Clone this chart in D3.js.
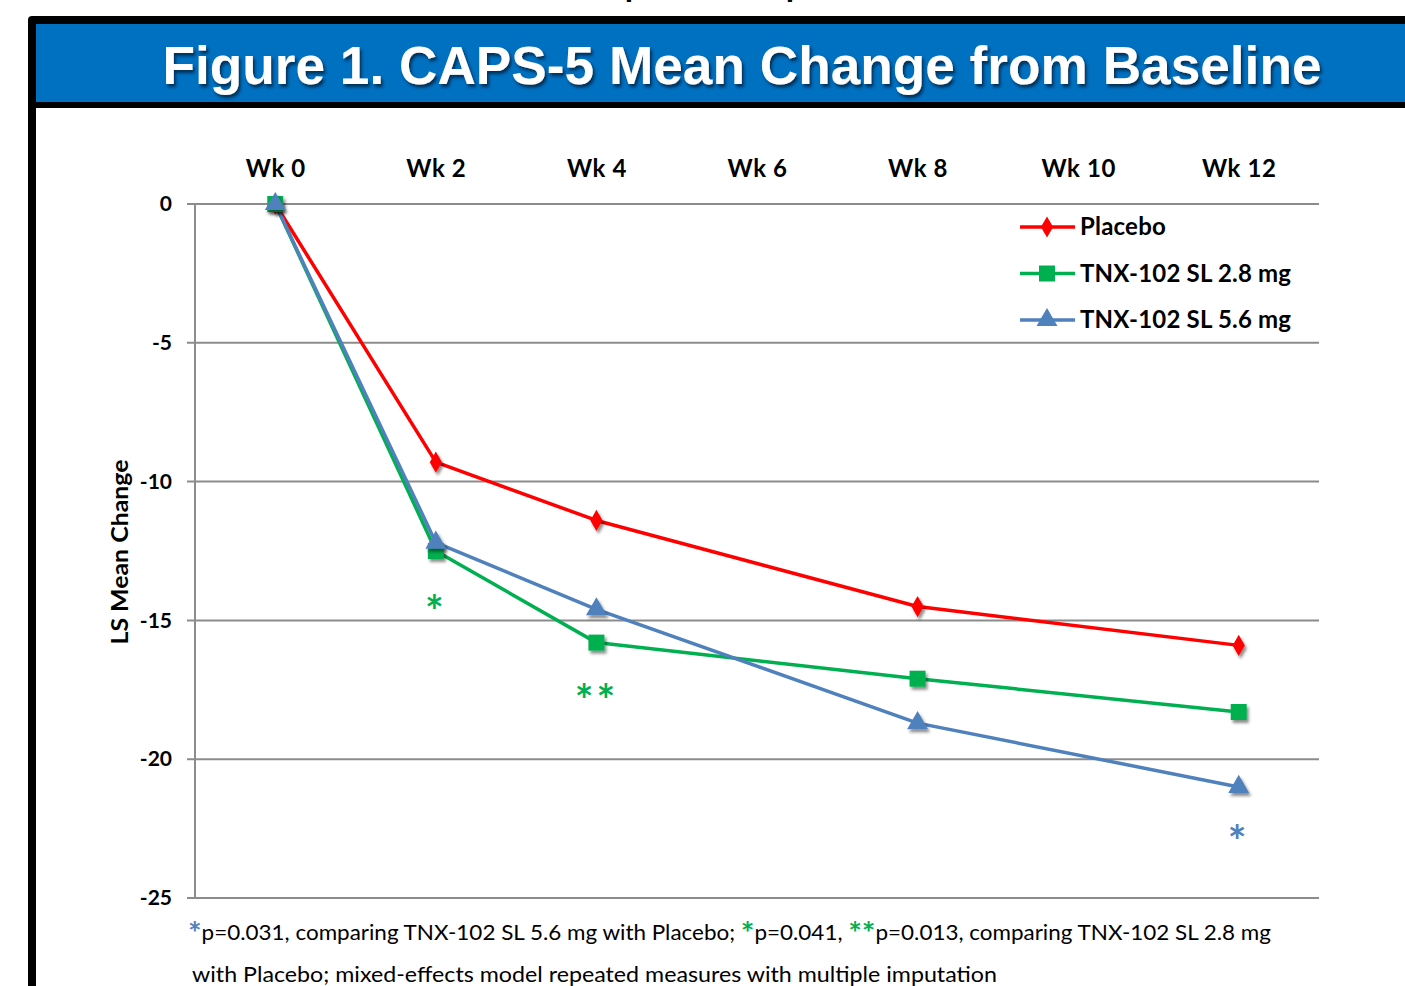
<!DOCTYPE html>
<html>
<head>
<meta charset="utf-8">
<script src="https://cdn.jsdelivr.net/npm/d3@7"></script>
<style>
  body { margin: 0; background: #fff; overflow: hidden; }
  svg { display: block; }
</style>
</head>
<body>
<script>
// chart data
const weeks = ["Wk 0", "Wk 2", "Wk 4", "Wk 6", "Wk 8", "Wk 10", "Wk 12"];
const yTicks = [0, -5, -10, -15, -20, -25];
const placeboWeeks = ["Wk 0", "Wk 2", "Wk 4", "Wk 8", "Wk 12"];
const placebo = [0, -9.3, -11.4, -14.5, -15.9];
const dose28 = [0, -12.5, -15.8, -17.1, -18.3];
const dose56 = [0, -12.2, -14.6, -18.7, -21.0];
const seriesNames = ["Placebo", "TNX-102 SL 2.8 mg", "TNX-102 SL 5.6 mg"];
const sigWeeks = ["Wk 2", "Wk 4", "Wk 12"];
const sigMarks = ["*", "**", "*"];
const sigValues = [-14.3, -17.5, -22.6];

const W = 1405, H = 986;
const svg = d3.select("body").append("svg").attr("width", W).attr("height", H);

const defs = svg.append("defs");
defs.append("filter").attr("id", "shadow").attr("x", "-50%").attr("y", "-50%").attr("width", "200%").attr("height", "200%")
  .append("feDropShadow").attr("dx", 2).attr("dy", 3).attr("stdDeviation", 1.8)
  .attr("flood-color", "#000").attr("flood-opacity", 0.45);
defs.append("filter").attr("id", "tshadow")
  .append("feDropShadow").attr("dx", 2).attr("dy", 3).attr("stdDeviation", 1.5)
  .attr("flood-color", "#002040").attr("flood-opacity", 0.8);

// cropped text above the frame
svg.selectAll("text.top").data([634, 795]).enter().append("text")
  .attr("x", d => d).attr("y", -4)
  .attr("text-anchor", "middle")
  .style("font", "bold 30px 'Liberation Sans'")
  .text("p");

// frame
svg.append("rect").attr("x", 28).attr("y", 16).attr("width", W).attr("height", 92).attr("rx", 4).attr("fill", "#000");
svg.append("rect").attr("x", 36).attr("y", 24).attr("width", W).attr("height", 78).attr("fill", "#0070c0");
svg.append("rect").attr("x", 28).attr("y", 100).attr("width", 8).attr("height", H).attr("fill", "#000");

svg.append("text")
  .attr("x", 742).attr("y", 84)
  .attr("text-anchor", "middle")
  .attr("textLength", 1159).attr("lengthAdjust", "spacingAndGlyphs")
  .attr("fill", "#fff")
  .attr("filter", "url(#tshadow)")
  .style("font", "bold 53px 'Liberation Sans'")
  .text("Figure 1. CAPS-5 Mean Change from Baseline");

// scales
const x = d3.scalePoint().domain(weeks).range([195, 1319]).padding(0.5);
const y = d3.scaleLinear().domain([-25, 0]).range([898, 204]);

// grid
svg.append("g").selectAll("line").data(yTicks).enter().append("line")
  .attr("x1", 187).attr("x2", 1319)
  .attr("y1", d => y(d)).attr("y2", d => y(d))
  .attr("stroke", "#8c8c8c").attr("stroke-width", 2);
svg.append("line").attr("x1", 195).attr("x2", 195).attr("y1", y(0)).attr("y2", y(-25))
  .attr("stroke", "#8c8c8c").attr("stroke-width", 2);

// axes
const xAxis = svg.append("g").attr("transform", `translate(0,${y(0)})`)
  .call(d3.axisTop(x).tickSize(0).tickPadding(27));
xAxis.select(".domain").remove();
xAxis.selectAll("text").style("font", "bold 24px Lato").attr("letter-spacing", 0.6).attr("fill", "#000");

const yAxis = svg.append("g").attr("transform", "translate(195,0)")
  .call(d3.axisLeft(y).tickValues(yTicks).tickSize(0).tickPadding(23).tickFormat(d => String(d)));
yAxis.select(".domain").remove();
yAxis.selectAll("text").style("font", "bold 21px Lato").attr("fill", "#000");

svg.append("text")
  .attr("transform", "translate(128,552) rotate(-90)")
  .attr("text-anchor", "middle")
  .attr("textLength", 185).attr("lengthAdjust", "spacingAndGlyphs")
  .style("font", "bold 22px Lato")
  .text("LS Mean Change");

// series
const colors = ["#ff0000", "#00b050", "#4f81bd"];
const seriesVals = [placebo, dose28, dose56];
const symbols = [d3.symbolDiamond, d3.symbolSquare, d3.symbolTriangle];
const symSizes = [130, 256, 190];

const line = d3.line().x(d => x(d.w)).y(d => y(d.v));

seriesVals.forEach((vals, i) => {
  const pts = vals.map((v, j) => ({ w: placeboWeeks[j], v: v }));
  svg.append("path").datum(pts)
    .attr("d", line)
    .attr("fill", "none")
    .attr("stroke", colors[i])
    .attr("stroke-width", 3.5)
    .attr("stroke-linejoin", "round");
});
seriesVals.forEach((vals, i) => {
  const pts = vals.map((v, j) => ({ w: placeboWeeks[j], v: v }));
  svg.append("g").selectAll("path").data(pts).enter().append("path")
    .attr("transform", d => `translate(${x(d.w)},${y(d.v)})`)
    .attr("d", d3.symbol().type(symbols[i]).size(symSizes[i]))
    .attr("fill", colors[i])
    .attr("filter", "url(#shadow)");
});

// significance marks (Lato's asterisk sits ~0.6em above the baseline)
const sigColors = ["#00b050", "#00b050", "#4f81bd"];
svg.append("g").selectAll("text").data(sigWeeks).enter().append("text")
  .attr("x", d => x(d)).attr("y", (d, i) => y(sigValues[i]) + 26)
  .attr("text-anchor", "middle")
  .attr("fill", (d, i) => sigColors[i])
  .style("font", "bold 44px Lato")
  .attr("letter-spacing", 3)
  .text((d, i) => sigMarks[i]);

// legend
const legend = svg.append("g");
seriesNames.forEach((name, i) => {
  const ly = 227 + i * 46.5;
  legend.append("line").attr("x1", 1020).attr("x2", 1075).attr("y1", ly).attr("y2", ly)
    .attr("stroke", colors[i]).attr("stroke-width", 3.5);
  legend.append("path").attr("transform", `translate(1047,${ly})`)
    .attr("d", d3.symbol().type(symbols[i]).size(symSizes[i]))
    .attr("fill", colors[i]);
  legend.append("text").attr("x", 1080).attr("y", ly + 8)
    .attr("letter-spacing", 0.2)
    .style("font", "bold 24px Lato").text(name);
});

// footnote
const f1 = svg.append("text").attr("x", 188).attr("y", 940)
  .attr("textLength", 1083).attr("lengthAdjust", "spacingAndGlyphs")
  .style("font", "21px Lato").attr("fill", "#000");
f1.append("tspan").attr("fill", "#4f81bd").style("font-size", "30px").style("font-weight", "bold").attr("dy", 4).text("*");
f1.append("tspan").attr("dy", -4).text("p=0.031, comparing TNX-102 SL 5.6 mg with Placebo; ");
f1.append("tspan").attr("fill", "#00b050").style("font-size", "30px").style("font-weight", "bold").attr("dy", 4).text("*");
f1.append("tspan").attr("dy", -4).text("p=0.041, ");
f1.append("tspan").attr("fill", "#00b050").style("font-size", "30px").style("font-weight", "bold").attr("dy", 4).text("**");
f1.append("tspan").attr("dy", -4).text("p=0.013, comparing TNX-102 SL 2.8 mg");

svg.append("text").attr("x", 192).attr("y", 982)
  .attr("textLength", 805).attr("lengthAdjust", "spacingAndGlyphs")
  .style("font", "21px Lato")
  .text("with Placebo; mixed-effects model repeated measures with multiple imputation");
</script>
</body>
</html>
